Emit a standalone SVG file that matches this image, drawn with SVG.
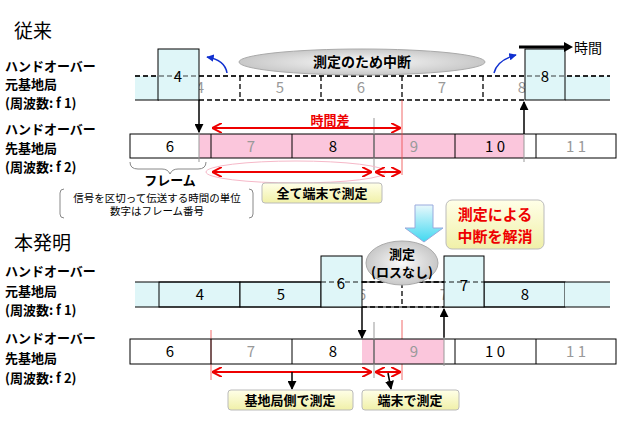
<svg xmlns="http://www.w3.org/2000/svg" width="640" height="426" viewBox="0 0 640 426">
<defs>
<style>
text{font-family:"Noto Sans CJK JP","Liberation Sans",sans-serif}
.lb{font-size:13px;font-weight:bold;fill:#000}
.tt{font-size:19px;fill:#000}
.fn{font-size:15px;text-anchor:middle}
.g{fill:#999}
.k{fill:#000}
.fr{fill:#fff;stroke:#000;stroke-width:1}
.cy{fill:#dff6f8;stroke:#000;stroke-width:1}
.dash{stroke:#000;stroke-width:1.3;stroke-dasharray:5,3;fill:none}
.ar{stroke:#000;stroke-width:1.5;fill:none;marker-end:url(#ah)}
.red{stroke:#e00;stroke-width:2;fill:none;marker-start:url(#rh);marker-end:url(#rh)}
.ybox{fill:url(#yg);stroke:#bbb;stroke-width:1}
.bt{font-size:13px;font-weight:bold;text-anchor:middle}
</style>
<marker id="ah" viewBox="0 0 10 10" refX="9" refY="5" markerWidth="6" markerHeight="6" orient="auto"><path d="M0,0L10,5L0,10z" fill="#000"/></marker>
<marker id="rh" viewBox="0 0 10 10" refX="9" refY="5" markerWidth="5" markerHeight="5" orient="auto-start-reverse"><path d="M0,0L10,5L0,10" fill="none" stroke="#e00" stroke-width="2"/></marker>
<marker id="bh" viewBox="0 0 10 10" refX="9" refY="5" markerWidth="5" markerHeight="5" orient="auto"><path d="M0,0L10,5L0,10z" fill="#1030d0"/></marker>
<linearGradient id="yg" x1="0" y1="0" x2="0" y2="1"><stop offset="0" stop-color="#ffffe8"/><stop offset="1" stop-color="#f0f0a8"/></linearGradient>
<radialGradient id="eg"><stop offset="0" stop-color="#fafafa"/><stop offset="1" stop-color="#c8c8c8"/></radialGradient>
<linearGradient id="cg" x1="0" y1="0" x2="0" y2="1"><stop offset="0" stop-color="#e8f8fc"/><stop offset="1" stop-color="#40d8f0"/></linearGradient>
</defs>

<g id="titles">
<text class="tt" x="14" y="38">従来</text>
<text class="tt" x="14" y="250">本発明</text>
</g>

<g id="labels-top">
<text class="lb" x="5" y="71">ハンドオーバー</text>
<text class="lb" x="5" y="89">元基地局</text>
<text class="lb" x="5" y="108">(周波数: f 1)</text>
<text class="lb" x="5" y="134">ハンドオーバー</text>
<text class="lb" x="5" y="153">先基地局</text>
<text class="lb" x="5" y="172">(周波数: f 2)</text>
</g>

<g id="f1-top">
<rect x="135" y="76" width="24" height="24" fill="#dff6f8"/>
<rect x="565" y="76" width="45" height="24" fill="#dff6f8"/>
<line x1="135" y1="76" x2="610" y2="76" class="dash"/>
<line x1="135" y1="100" x2="159" y2="100" stroke="#000"/>
<line x1="565" y1="100" x2="610" y2="100" stroke="#000"/>
<line x1="199" y1="100" x2="525" y2="100" class="dash"/>
<line x1="240" y1="76" x2="240" y2="100" class="dash"/>
<line x1="321" y1="76" x2="321" y2="100" class="dash"/>
<line x1="402" y1="76" x2="402" y2="100" class="dash"/>
<line x1="483" y1="76" x2="483" y2="100" class="dash"/>
<text class="fn g" x="200" y="93">4</text>
<text class="fn g" x="280" y="93">5</text>
<text class="fn g" x="361" y="93">6</text>
<text class="fn g" x="442" y="93">7</text>
<text class="fn g" x="522" y="93">8</text>
<rect class="cy" x="158" y="49" width="41" height="51"/>
<text class="fn k" x="178" y="82">4</text>
<rect class="cy" x="525" y="49" width="40" height="51"/>
<text class="fn k" x="545" y="82">8</text>
<line x1="135" y1="76" x2="610" y2="76" class="dash" opacity="0.5"/>
</g>

<g id="interrupt">
<ellipse cx="362" cy="62" rx="123" ry="13" fill="url(#eg)" stroke="#aaa"/>
<text x="362" y="67" font-size="14" font-weight="bold" text-anchor="middle">測定のため中断</text>
</g>

<g id="timeaxis">
<line x1="519" y1="47" x2="566" y2="47" stroke="#000" stroke-width="3"/>
<path d="M564,42L573,47L564,52z" fill="#000"/>
<text x="574" y="53" font-size="14">時間</text>
</g>

<g id="f2-top">
<rect x="199" y="134" width="325" height="24" fill="#fbc6dc"/>
<rect x="130" y="134" width="486" height="24" fill="none" stroke="#000"/>
<line x1="211" y1="134" x2="211" y2="158" stroke="#000"/>
<line x1="292" y1="134" x2="292" y2="158" stroke="#000"/>
<line x1="374" y1="134" x2="374" y2="158" stroke="#000"/>
<line x1="455" y1="134" x2="455" y2="158" stroke="#000"/>
<line x1="536" y1="134" x2="536" y2="158" stroke="#000"/>
<text class="fn k" x="170" y="152">6</text>
<text class="fn g" x="251" y="152">7</text>
<text class="fn k" x="333" y="152">8</text>
<text class="fn g" x="414" y="152">9</text>
<text class="fn k" x="495" y="152">1 0</text>
<text class="fn g" x="576" y="152">1 1</text>
<line x1="199" y1="130" x2="199" y2="162" stroke="#999"/>
<line x1="374" y1="118" x2="374" y2="170" stroke="#999"/>
<line x1="524" y1="134" x2="524" y2="162" stroke="#999"/>
<line x1="402" y1="100" x2="402" y2="175" stroke="#e44" stroke-width="0.8"/>
</g>

<g id="connectors">
<path d="M227,73 Q225,60 207,57" stroke="#1030d0" stroke-width="1.5" fill="none" marker-end="url(#bh)"/>
<path d="M494,73 Q497,60 516,55" stroke="#1030d0" stroke-width="1.5" fill="none" marker-end="url(#bh)"/>
<line class="ar" x1="199" y1="100" x2="199" y2="132"/>
<line class="ar" x1="524" y1="134" x2="524" y2="102"/>
<text x="330" y="125" font-size="13" font-weight="bold" fill="#e00" text-anchor="middle">時間差</text>
<line class="red" x1="213" y1="128" x2="400" y2="128"/>
<ellipse cx="296" cy="172" rx="90" ry="11" fill="none" stroke="#f6b8c8"/>
<line class="red" x1="213" y1="172" x2="371" y2="172"/>
<line class="red" x1="376" y1="172" x2="400" y2="172"/>
<path d="M130,162 Q130,169 138,169 L162,169 Q168,169 170,174 Q172,169 178,169 L198,169 Q206,169 206,162" fill="none" stroke="#888"/>
<line class="ar" x1="362" y1="307" x2="362" y2="338"/>
<line class="ar" x1="444" y1="338" x2="444" y2="309"/>
<line x1="402" y1="320" x2="402" y2="380" stroke="#e44" stroke-width="0.8"/>
<line x1="211" y1="330" x2="211" y2="380" stroke="#e44" stroke-width="0.8"/>
<line class="red" x1="213" y1="372" x2="371" y2="372"/>
<line class="red" x1="376" y1="372" x2="400" y2="372"/>
<line class="ar" x1="292" y1="372" x2="292" y2="389"/>
<line class="ar" x1="388" y1="373" x2="391" y2="389"/>
</g>

<g id="frame-note">
<text x="170" y="185" font-size="13" font-weight="bold" text-anchor="middle">フレーム</text>
<path d="M64,189 Q60,189 60,193 L60,214 Q60,218 64,218" fill="none" stroke="#888"/>
<path d="M249,189 Q253,189 253,193 L253,214 Q253,218 249,218" fill="none" stroke="#888"/>
<text x="157" y="202" font-size="10.5" text-anchor="middle">信号を区切って伝送する時間の単位</text>
<text x="157" y="215" font-size="10.5" text-anchor="middle">数字はフレーム番号</text>
</g>

<g id="all-terminal">
<rect class="ybox" x="262" y="183" width="120" height="20" rx="3"/>
<text class="bt" x="322" y="198">全て端末で測定</text>
</g>

<g id="down-arrow">
<path d="M415,205 L433,205 L433,228 L443,228 L424,242 L405,228 L415,228z" fill="url(#cg)" stroke="#9ad"/>
</g>

<g id="resolve">
<rect class="ybox" x="446" y="200" width="98" height="49" rx="6"/>
<text x="495" y="220" font-size="15" font-weight="bold" fill="#e00" text-anchor="middle">測定による</text>
<text x="495" y="242" font-size="15" font-weight="bold" fill="#e00" text-anchor="middle">中断を解消</text>
</g>

<g id="labels-bottom">
<text class="lb" x="5" y="276">ハンドオーバー</text>
<text class="lb" x="5" y="296">元基地局</text>
<text class="lb" x="5" y="315">(周波数: f 1)</text>
<text class="lb" x="5" y="343">ハンドオーバー</text>
<text class="lb" x="5" y="363">先基地局</text>
<text class="lb" x="5" y="383">(周波数: f 2)</text>
</g>

<g id="f1-bottom">
<rect x="135" y="282" width="24" height="25" fill="#dff6f8"/>
<rect class="cy" x="159" y="282" width="81" height="25"/>
<rect class="cy" x="240" y="282" width="81" height="25"/>
<rect class="cy" x="484" y="282" width="81" height="25"/>
<rect x="565" y="282" width="45" height="25" fill="#dff6f8"/>
<line x1="135" y1="282" x2="610" y2="282" stroke="#000"/>
<line x1="135" y1="307" x2="610" y2="307" stroke="#000"/>
<rect x="362" y="283" width="82" height="23" fill="#fff"/>
<line x1="362" y1="282" x2="444" y2="282" class="dash"/>
<line x1="402" y1="283" x2="402" y2="307" class="dash"/>
<line x1="362" y1="307" x2="444" y2="307" class="dash"/>
<text class="fn k" x="200" y="300">4</text>
<text class="fn k" x="281" y="300">5</text>
<text class="fn g" x="362" y="300">6</text>
<text class="fn g" x="444" y="300">7</text>
<text class="fn k" x="525" y="300">8</text>
<rect class="cy" x="321" y="256" width="41" height="51"/>
<text class="fn k" x="341" y="289">6</text>
<rect class="cy" x="444" y="256" width="40" height="51"/>
<text class="fn k" x="464" y="291">7</text>
<line x1="321" y1="282" x2="484" y2="282" class="dash" opacity="0.6"/>
</g>

<g id="measure-noloss">
<ellipse cx="402" cy="263" rx="36" ry="22" fill="url(#eg)" stroke="#aaa"/>
<text x="402" y="259" font-size="13" font-weight="bold" text-anchor="middle">測定</text>
<text x="402" y="277" font-size="13" font-weight="bold" text-anchor="middle">(ロスなし)</text>
</g>

<g id="f2-bottom">
<rect x="362" y="339" width="82" height="25" fill="#fbc6dc"/>
<rect x="130" y="339" width="486" height="25" fill="none" stroke="#000"/>
<line x1="211" y1="339" x2="211" y2="364" stroke="#000"/>
<line x1="292" y1="339" x2="292" y2="364" stroke="#000"/>
<line x1="374" y1="339" x2="374" y2="364" stroke="#000"/>
<line x1="455" y1="339" x2="455" y2="364" stroke="#000"/>
<line x1="536" y1="339" x2="536" y2="364" stroke="#000"/>
<text class="fn k" x="170" y="357">6</text>
<text class="fn g" x="251" y="357">7</text>
<text class="fn k" x="333" y="357">8</text>
<text class="fn g" x="414" y="357">9</text>
<text class="fn k" x="495" y="357">1 0</text>
<text class="fn g" x="576" y="357">1 1</text>
<line x1="374" y1="322" x2="374" y2="378" stroke="#999"/>
<line x1="444" y1="337" x2="444" y2="366" stroke="#999"/>
</g>

<g id="bs-measure">
<rect class="ybox" x="228" y="390" width="125" height="20" rx="3"/>
<text class="bt" x="290" y="405">基地局側で測定</text>
</g>
<g id="term-measure">
<rect class="ybox" x="362" y="390" width="97" height="20" rx="3"/>
<text class="bt" x="410" y="405">端末で測定</text>
</g>
</svg>
